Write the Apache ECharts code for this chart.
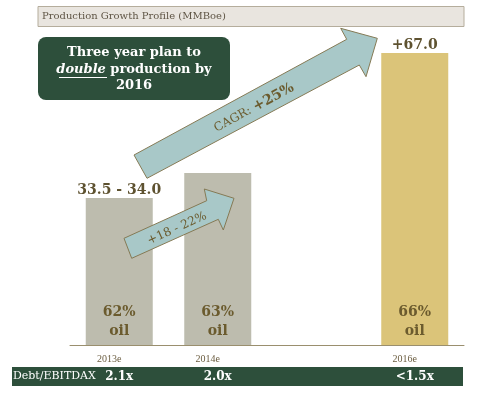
<!DOCTYPE html>
<html><head><meta charset="utf-8">
<script src="https://cdn.jsdelivr.net/npm/echarts@6/dist/echarts.min.js"></script>
<style>html,body{margin:0;padding:0;background:#fff}#c{width:480px;height:393px}</style>
</head><body><div id="c"></div>
<script>
var categories = ['2013e', '2014e', '', '2016e'];
var production = [33.75, 39.5, null, 67.0];
var topLabels = ['33.5 - 34.0', '', '', '+67.0'];
var oilShare = ['62%', '63%', '', '66%'];
var debtEbitdax = ['2.1x', '2.0x', '', '<1.5x'];
var barColors = ['#bdbcae', '#bdbcae', '#bdbcae', '#dbc479'];

var serif = '"DejaVu Serif", Georgia, serif';
var serif2 = '"Liberation Serif", "Times New Roman", serif';
var olive = '#6b5b2e';
var chart = echarts.init(document.getElementById('c'), null, {renderer: 'canvas'});

var deg = Math.PI / 180;
chart.setOption({
  animation: false,
  grid: {left: 70, right: 16, top: 40, bottom: 48},
  xAxis: [{
    type: 'category', data: categories, position: 'bottom',
    axisLine: {lineStyle: {color: '#9a8f6e', width: 1}},
    axisTick: {show: false},
    axisLabel: {color: '#6b5d40', fontFamily: serif2, fontSize: 10, margin: 9, padding: [0, 20, 0, 0]}
  }, {
    type: 'category', data: debtEbitdax, position: 'bottom',
    axisLine: {show: false}, axisTick: {show: false},
    axisLabel: {color: '#ffffff', fontFamily: serif, fontSize: 12, fontWeight: 'bold', margin: 26}
  }],
  yAxis: {type: 'value', min: 0, max: 70, show: false, splitLine: {show: false}},
  series: [{
    type: 'bar', barWidth: 67, xAxisIndex: 0,
    data: production.map(function (v, i) { return {value: v, itemStyle: {color: barColors[i]}}; }),
    label: {
      show: true, position: 'top', distance: 1,
      formatter: function (p) { return topLabels[p.dataIndex]; },
      color: '#5e5230', fontFamily: serif, fontWeight: 'bold', fontSize: 14
    },
    z: 2
  }, {
    type: 'bar', barWidth: 67, xAxisIndex: 0, barGap: '-100%',
    data: production,
    itemStyle: {color: 'rgba(0,0,0,0)'},
    label: {
      show: true, position: 'insideBottom', distance: 4,
      formatter: function (p) { return oilShare[p.dataIndex] ? oilShare[p.dataIndex] + '\noil' : ''; },
      color: olive, fontFamily: serif, fontWeight: 'bold', fontSize: 14, lineHeight: 19
    },
    z: 3, silent: true
  }],
  graphic: [
    {type: 'rect', shape: {x: 38, y: 6.5, width: 426, height: 20}, style: {fill: '#e9e5df', stroke: '#b5ad9c', lineWidth: 1}},
    {type: 'text', x: 42, y: 16.5, style: {text: 'Production Growth Profile (MMBoe)', fill: '#5f5545', font: '10px ' + serif, verticalAlign: 'middle'}},
    {type: 'rect', shape: {x: 38, y: 37, width: 192, height: 63, r: 8}, style: {fill: '#2d4f3b'}},
    {type: 'text', x: 134, y: 69.5, style: {
      text: 'Three year plan to\n{i|double} production by\n2016',
      fill: '#ffffff', font: 'bold 13px ' + serif, align: 'center', verticalAlign: 'middle', lineHeight: 16.5,
      rich: {i: {fontStyle: 'italic', fontWeight: 'bold', fontSize: 13, fontFamily: serif, fill: '#ffffff'}}
    }},
    {type: 'line', z: 5, shape: {x1: 59, y1: 77.5, x2: 107, y2: 77.5}, style: {stroke: '#ffffff', lineWidth: 1}},
    {type: 'polygon', z: 100, shape: {points: [[134, 155], [346.7, 39.3], [340.7, 28.3], [377.3, 38.3], [366, 76.7], [359.3, 65], [147, 178.3]]},
      style: {fill: '#a8c8c8', stroke: '#857a55', lineWidth: 1}},
    {type: 'text', z: 101, x: 254, y: 108, rotation: 28.5 * deg, style: {
      text: 'CAGR: {b|+25%}', fill: olive, font: '12px ' + serif, align: 'center', verticalAlign: 'middle',
      rich: {b: {fontWeight: 'bold', fontSize: 14, fontFamily: serif, fill: olive}}
    }},
    {type: 'polygon', z: 100, shape: {points: [[124, 238.3], [206.7, 200.7], [204.3, 189], [234, 198.3], [223.3, 230], [218.3, 219.3], [131.7, 258.3]]},
      style: {fill: '#a8c8c8', stroke: '#857a55', lineWidth: 1}},
    {type: 'text', z: 101, x: 177, y: 228.5, rotation: 24.4 * deg, style: {
      text: '+18 - 22%', fill: olive, font: '12px ' + serif, align: 'center', verticalAlign: 'middle'
    }},
    {type: 'rect', z: -10, shape: {x: 12, y: 367, width: 451, height: 19}, style: {fill: '#2d4f3b'}},
    {type: 'text', x: 13, y: 376.5, style: {text: 'Debt/EBITDAX', fill: '#ffffff', font: '11px ' + serif, verticalAlign: 'middle'}}
  ]
});
</script></body></html>
